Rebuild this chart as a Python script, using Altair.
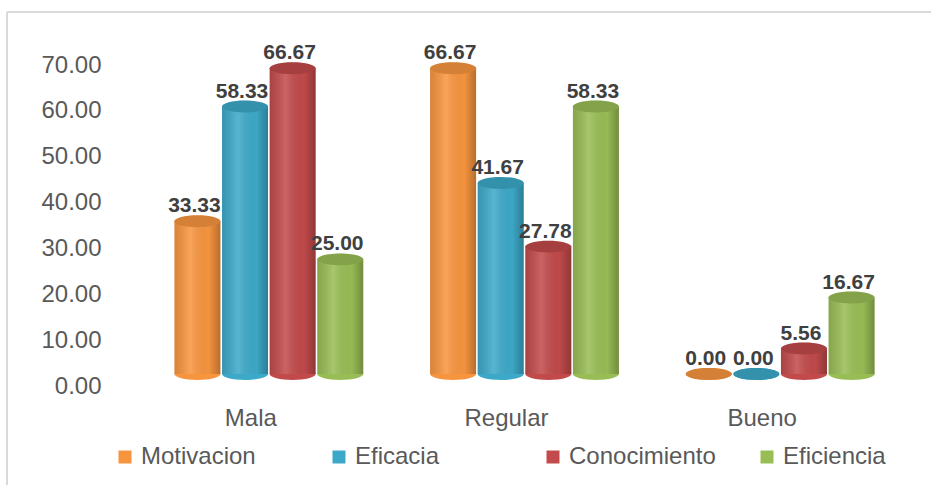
import altair as alt
import pandas as pd

categories = ["Mala", "Regular", "Bueno"]
series = ["Motivacion", "Eficacia", "Conocimiento", "Eficiencia"]
motivacion = [33.33, 66.67, 0.00]
eficacia = [58.33, 41.67, 0.00]
conocimiento = [66.67, 27.78, 5.56]
eficiencia = [25.00, 58.33, 16.67]
colors = ["#F7953F", "#3DA9C9", "#C24A4B", "#99BD55"]
y_ticks = [0, 10, 20, 30, 40, 50, 60, 70]

rows = []
for s, vals in zip(series, [motivacion, eficacia, conocimiento, eficiencia]):
    for c, v in zip(categories, vals):
        rows.append({"categoria": c, "serie": s, "valor": v})
df = pd.DataFrame(rows)

FONT = "Liberation Sans"
ELLIPSE = "M-1,0A1,0.26,0,1,0,1,0A1,0.26,0,1,0,-1,0Z"
BAR_W = 46

x_enc = alt.X("categoria:N", sort=categories,
              scale=alt.Scale(paddingInner=0, paddingOuter=0),
              axis=alt.Axis(title=None, labelAngle=0, domain=False, ticks=False, tickSize=0,
                            labelFontSize=24, labelColor="#595959", labelFont=FONT,
                            labelPadding=32, labelOffset=-18))
xo_enc = alt.XOffset("serie:N", sort=series,
                     scale=alt.Scale(paddingInner=0.03, paddingOuter=0.7))
y_enc = alt.Y("valor:Q",
              scale=alt.Scale(domain=[0, 70], nice=False, zero=True),
              axis=alt.Axis(title=None, values=y_ticks, format=".2f", grid=False, domain=False,
                            ticks=False, tickSize=0, labelFontSize=24, labelColor="#595959",
                            labelFont=FONT, labelPadding=40, labelOffset=12))
color_enc = alt.Color("serie:N", sort=series,
                      scale=alt.Scale(domain=series, range=colors),
                      legend=alt.Legend(title=None, orient="none", legendX=-28, legendY=392,
                                        direction="horizontal", columns=4, columnPadding=39,
                                        gridAlign="all",
                                        symbolType="square", symbolSize=169, symbolStrokeWidth=0,
                                        labelFontSize=24, labelColor="#595959", labelFont=FONT,
                                        labelOffset=4, padding=0))

base = alt.Chart(df).transform_calculate(cero="0")

bottom = base.mark_point(shape=ELLIPSE, size=BAR_W * BAR_W, filled=True, opacity=1,
                         strokeWidth=0).encode(
    x=x_enc, xOffset=xo_enc, y=alt.Y("cero:Q"), color=color_enc)

body = base.mark_bar(size=BAR_W).encode(x=x_enc, xOffset=xo_enc, y=y_enc, color=color_enc)

shade = base.mark_bar(
    size=BAR_W,
    fill=alt.LinearGradient(
        gradient="linear", x1=0, x2=1, y1=0, y2=0,
        stops=[alt.GradientStop(offset=0, color="rgba(0,0,0,0.12)"),
               alt.GradientStop(offset=0.35, color="rgba(255,255,255,0.14)"),
               alt.GradientStop(offset=0.75, color="rgba(0,0,0,0.02)"),
               alt.GradientStop(offset=1, color="rgba(0,0,0,0.26)")])
).encode(x=x_enc, xOffset=xo_enc, y=y_enc)

cap = base.mark_point(shape=ELLIPSE, size=BAR_W * BAR_W, filled=True, opacity=1,
                      strokeWidth=0).encode(x=x_enc, xOffset=xo_enc, y=y_enc, color=color_enc)
cap_shade = base.mark_point(shape=ELLIPSE, size=BAR_W * BAR_W, filled=True, opacity=0.14,
                            color="#000000", strokeWidth=0).encode(
    x=x_enc, xOffset=xo_enc, y=y_enc)

labels = base.mark_text(font=FONT, fontSize=21, fontWeight="bold", color="#404040",
                        baseline="alphabetic", dy=-9, dx=-3).encode(
    x=x_enc, xOffset=xo_enc, y=y_enc, text=alt.Text("valor:Q", format=".2f"))

frame_top = alt.Chart(df).mark_rule(color="#d9d9d9", strokeWidth=2).encode(
    x=alt.value(-134), x2=alt.value(800), y=alt.value(-41))
frame_left = alt.Chart(df).mark_rule(color="#d9d9d9", strokeWidth=2).encode(
    x=alt.value(-134), y=alt.value(-41), y2=alt.value(440))

chart = alt.layer(frame_top, frame_left, bottom, body, shade, cap, cap_shade, labels).properties(
    width=767, height=321,
    autosize=alt.AutoSizeParams(type="none"),
    padding={"left": 141, "top": 53, "right": 23, "bottom": 111},
    background="white",
).configure(font=FONT).configure_view(strokeWidth=0, stroke="transparent")

chart.save("out.html", embed_options={"renderer": "svg", "actions": False})
